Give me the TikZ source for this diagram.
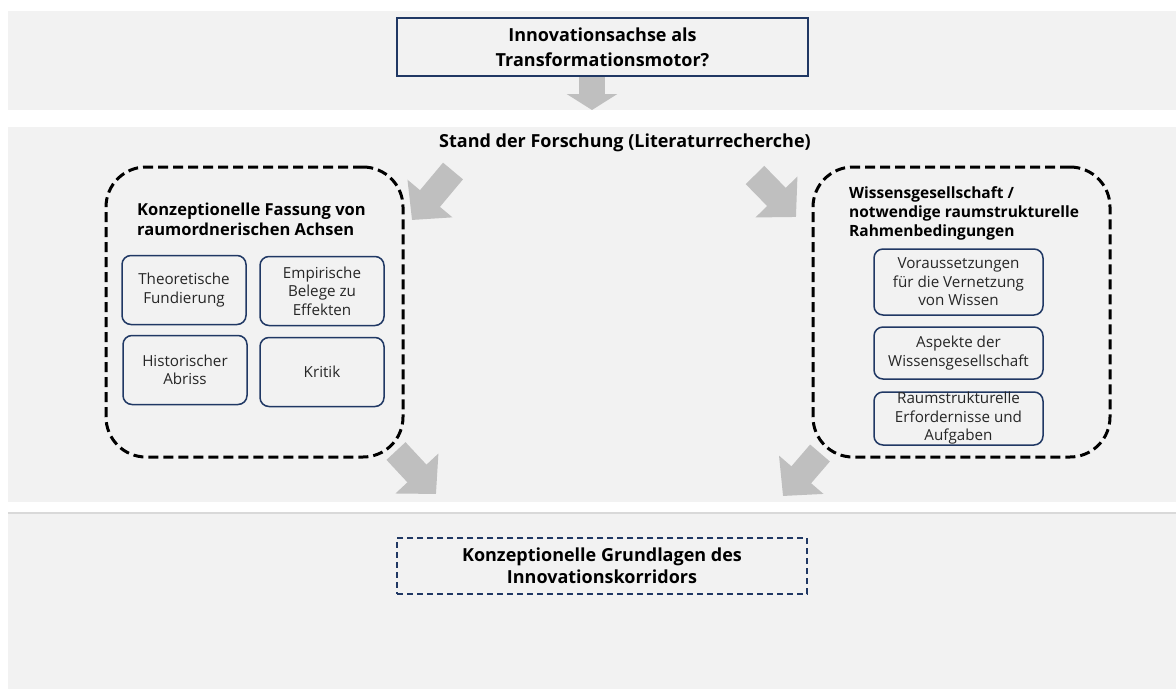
\documentclass[tikz,border=0pt]{standalone}
\usepackage{fontspec}
\setmainfont{Open Sans}
\usetikzlibrary{arrows.meta}
\definecolor{navy}{HTML}{203864}
\definecolor{band}{HTML}{F2F2F2}
\definecolor{arrowgray}{HTML}{BFBFBF}
\begin{document}
\begin{tikzpicture}[x=1pt,y=-1pt,
    titlebox/.style={draw=navy,line width=1.3,fill=band,align=center,
      font=\fontsize{18}{25}\selectfont\bfseries,inner sep=0},
    group/.style={draw=black,line width=3,dash pattern=on 10 off 5,
      rounded corners=40,inner sep=0},
    grouptitle/.style={anchor=west,align=left,inner sep=0,
      font=\fontsize{15.5}{19}\selectfont\bfseries},
    item/.style={draw=navy,line width=1.5,rounded corners=9,align=center,
      text=black!85,inner sep=0,font=\fontsize{15.2}{18.5}\selectfont},
    fatarrow/.style={draw=arrowgray,line width=26,
      -{Triangle[length=28,width=57]}},
  ]
  \useasboundingbox (0,0) rectangle (1176,689);
  \fill[band] (8,11) rectangle (1176,110);
  \fill[band] (8,127) rectangle (1176,502);
  \fill[band] (8,513) rectangle (1176,689);
  \draw[black!15,line width=2] (8,513) -- (1176,513);

  \node[titlebox,minimum width=411,minimum height=58] (motor) at (602.5,47)
    {Innovationsachse als\\Transformationsmotor?};
  \node[font=\fontsize{18}{22}\selectfont\bfseries] (stand) at (625,143)
    {Stand der Forschung (Literaturrecherche)};

  \node[group,minimum width=297,minimum height=290] (achsen) at (254.5,312) {};
  \node[grouptitle,font=\fontsize{16.5}{20}\selectfont\bfseries] (achsentitel)
    at (137,219) {Konzeptionelle Fassung von\\raumordnerischen Achsen};
  \node[item,minimum width=124,minimum height=69] (theorie) at (184,290)
    {Theoretische\\Fundierung};
  \node[item,minimum width=124,minimum height=69] (empirie) at (322,291)
    {Empirische\\Belege zu\\Effekten};
  \node[item,minimum width=124,minimum height=69] (historie) at (185,370)
    {Historischer\\Abriss};
  \node[item,minimum width=124,minimum height=69] (kritik) at (322,372)
    {Kritik};

  \node[group,minimum width=297,minimum height=290] (wissen) at (961.5,312) {};
  \node[grouptitle] (wissentitel) at (849,213)
    {Wissensgesellschaft /\\notwendige raumstrukturelle\\Rahmenbedingungen};
  \node[item,minimum width=169,minimum height=66] (vernetzung) at (958.5,282)
    {Voraussetzungen\\für die Vernetzung\\von Wissen};
  \node[item,minimum width=169,minimum height=52] (aspekte) at (958.5,353)
    {Aspekte der\\Wissensgesellschaft};
  \node[item,minimum width=169,minimum height=53] (aufgaben) at (958.5,418.5)
    {Raumstrukturelle\\Erfordernisse und\\Aufgaben};

  \node[titlebox,draw=navy,line width=1.5,dash pattern=on 6 off 4,
    font=\fontsize{18}{22}\selectfont\bfseries,
    minimum width=410,minimum height=56] (korridor) at (602,566)
    {Konzeptionelle Grundlagen des\\Innovationskorridors};

  \coordinate (a0) at (592,77);   \coordinate (b0) at (592,110);
  \coordinate (a1) at (453,171);  \coordinate (b1) at (412,220);
  \coordinate (a2) at (755,175);  \coordinate (b2) at (796,217);
  \coordinate (a3) at (396,451);  \coordinate (b3) at (436,494);
  \coordinate (a4) at (820,453);  \coordinate (b4) at (783,496);
  \draw[fatarrow,-{Triangle[length=16,width=50]}] (a0) -- (b0);
  \foreach \i in {1,...,4}
    \draw[fatarrow] (a\i) -- (b\i);
\end{tikzpicture}
\end{document}
